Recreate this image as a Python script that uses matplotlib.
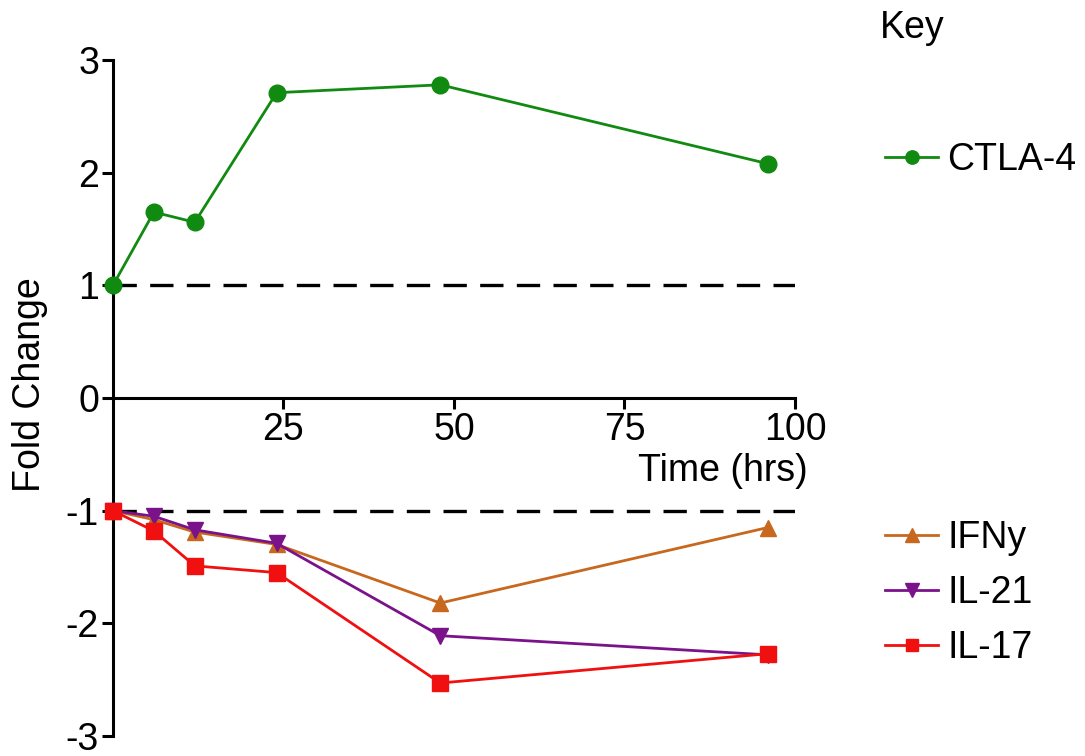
import matplotlib.pyplot as plt

plt.rcParams['font.family'] = ['Liberation Sans', 'DejaVu Sans']
plt.rcParams['axes.unicode_minus'] = False

hours = [0, 6, 12, 24, 48, 96]
ctla4 = [1.0, 1.65, 1.56, 2.71, 2.78, 2.08]
ifny = [-1.0, -1.08, -1.19, -1.30, -1.82, -1.15]
il21 = [-1.0, -1.05, -1.17, -1.29, -2.11, -2.28]
il17 = [-1.0, -1.18, -1.49, -1.55, -2.53, -2.27]

x_ticks = [25, 50, 75, 100]
y_ticks = [-3, -2, -1, 0, 1, 2, 3]

fs = 27
lw = 2.0

fig = plt.figure(figsize=(10.85, 7.56), dpi=100)
ax = fig.add_axes([0.1041, 0.0265, 0.6286, 0.8941])

ax.axhline(1, color='black', lw=2.4, dashes=(7, 4), zorder=1)
ax.axhline(-1, color='black', lw=2.4, dashes=(7, 4), zorder=1)

l_ctla, = ax.plot(hours, ctla4, color='#118a11', marker='o', ms=12, lw=lw,
                  clip_on=False, label='CTLA-4', zorder=3)
l_ifny, = ax.plot(hours, ifny, color='#c8681e', marker='^', ms=12, lw=lw,
                  clip_on=False, label='IFNy', zorder=3)
l_il21, = ax.plot(hours, il21, color='#7a128a', marker='v', ms=12, lw=lw,
                  clip_on=False, label='IL-21', zorder=3)
l_il17, = ax.plot(hours, il17, color='#f01010', marker='s', ms=11.5, lw=lw,
                  clip_on=False, label='IL-17', zorder=4)

ax.set_xlim(0, 100)
ax.set_ylim(-3, 3)
ax.set_xticks(x_ticks)
ax.set_yticks(y_ticks)
ax.spines['bottom'].set_position('zero')
ax.spines['top'].set_visible(False)
ax.spines['right'].set_visible(False)
for s in ('left', 'bottom'):
    ax.spines[s].set_linewidth(2.2)
ax.tick_params(direction='out', length=8, width=2.2, labelsize=fs, pad=2)

ax.set_xlabel('Time (hrs)', fontsize=fs)
ax.xaxis.set_label_coords(1.019, 0.392)
ax.xaxis.label.set_horizontalalignment('right')
ax.xaxis.label.set_verticalalignment('center')
ax.set_ylabel('Fold Change', fontsize=fs)
ax.yaxis.set_label_coords(-0.095, 0.52)

fig.text(0.811, 0.963, 'Key', fontsize=fs, va='center', ha='left')

leg_kw = dict(frameon=False, fontsize=fs, borderpad=0, handlelength=1.4,
              handletextpad=0.25, borderaxespad=0, markerscale=0.8)
leg1 = fig.legend(handles=[l_ctla], loc='center left',
                  bbox_to_anchor=(0.816, 0.788), **leg_kw)
leg2 = fig.legend(handles=[l_ifny, l_il21, l_il17], loc='center left',
                  bbox_to_anchor=(0.816, 0.2156), labelspacing=0.5, **leg_kw)

fig.savefig('out.png', dpi=100)
